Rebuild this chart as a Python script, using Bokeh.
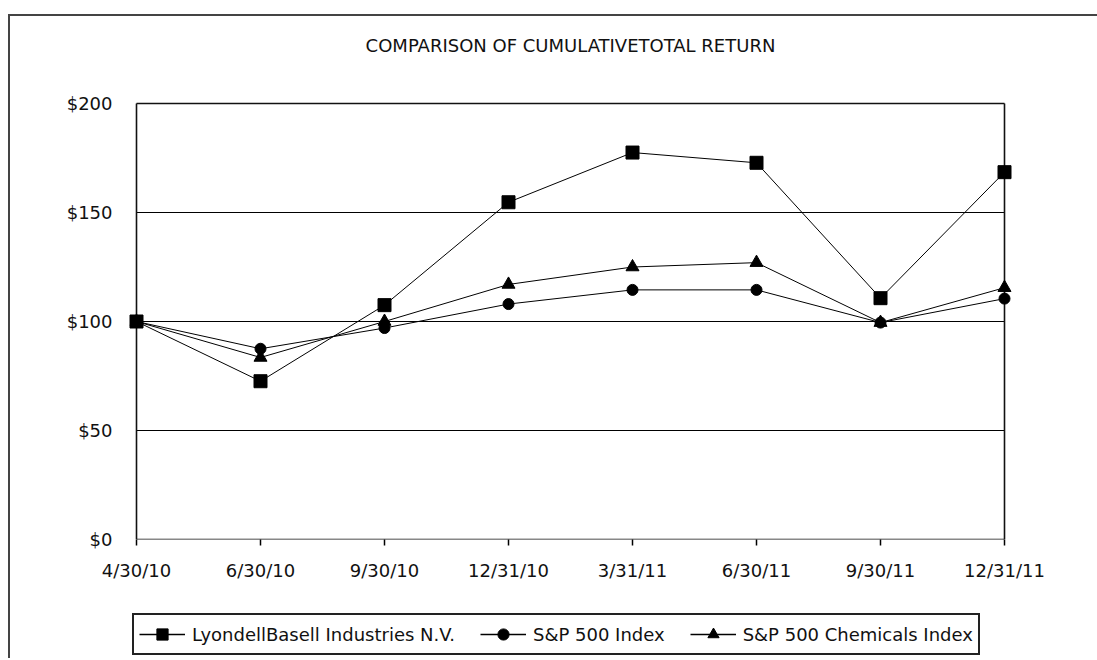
from bokeh.plotting import figure
from bokeh.models import Range1d, FixedTicker, Legend, LegendItem, Label
from bokeh.layouts import column
from bokeh.embed import file_html
from bokeh.resources import INLINE

# ---- data ----
dates = ["4/30/10", "6/30/10", "9/30/10", "12/31/10", "3/31/11", "6/30/11", "9/30/11", "12/31/11"]
lyb = [100, 72.6, 107.5, 154.7, 177.5, 172.8, 110.7, 168.5]
sp500 = [100, 87.5, 97, 108, 114.5, 114.5, 99.5, 110.5]
chem = [100, 83.5, 100, 117, 125, 127, 99.5, 115.5]
y_ticks = [0, 50, 100, 150, 200]
y_labels = ["$0", "$50", "$100", "$150", "$200"]
title_text = "COMPARISON OF CUMULATIVETOTAL RETURN"
names = ["LyondellBasell Industries N.V.", "S&P 500 Index", "S&P 500 Chemicals Index"]

FONT = "DejaVu Sans"
x = list(range(len(dates)))
pad = 8 / 124.0
top_px, plot_px = 87, 436          # space above the plot box, plot box height (px)
y_top = y_ticks[-1] * (1 + top_px / plot_px)

p = figure(width=1087, height=590, output_backend="svg", toolbar_location=None,
           x_range=Range1d(x[0] - pad, x[-1] + pad), y_range=Range1d(y_ticks[0], y_top),
           min_border_left=118, min_border_right=85, min_border_top=0, min_border_bottom=67)
p.outline_line_color = None
p.background_fill_color = "white"
p.border_fill_color = "white"
p.grid.visible = False

# grid lines (between the axes)
n = len(y_ticks)
p.segment(x0=[x[0]] * (n - 2), x1=[x[-1]] * (n - 2), y0=y_ticks[1:-1], y1=y_ticks[1:-1],
          line_color="black", line_width=1)
# plot box
p.segment(x0=[x[0], x[0], x[0], x[-1]], x1=[x[-1], x[-1], x[0], x[-1]],
          y0=[y_ticks[0], y_ticks[-1], y_ticks[0], y_ticks[0]],
          y1=[y_ticks[0], y_ticks[-1], y_ticks[-1], y_ticks[-1]],
          line_color="#111111", line_width=1.6)

# series
series = [(lyb, "square", 13), (sp500, "circle", 11), (chem, "triangle", 13)]
for vals, mk, sz in series:
    p.line(x, vals, line_color="black", line_width=1)
    p.scatter(x, vals, marker=mk, size=sz, fill_color="black", line_color="black")

# title
p.add_layout(Label(x=(x[0] + x[-1]) / 2, y=y_ticks[-1], y_offset=58, text=title_text,
                   text_align="center", text_baseline="middle",
                   text_font=FONT, text_font_size="18px", text_color="#111111"))

# axes
p.xaxis.ticker = FixedTicker(ticks=x)
p.xaxis.major_label_overrides = {i: d for i, d in zip(x, dates)}
p.xaxis.axis_line_color = None
p.xaxis.major_tick_out = 6
p.xaxis.major_tick_in = 0
p.xaxis.major_tick_line_color = "black"
p.xaxis.major_tick_line_width = 1.5
p.xaxis.minor_tick_line_color = None
p.xaxis.major_label_standoff = 14

p.yaxis.ticker = FixedTicker(ticks=y_ticks)
p.yaxis.major_label_overrides = {t: s for t, s in zip(y_ticks, y_labels)}
p.yaxis.axis_line_color = None
p.yaxis.major_tick_line_color = None
p.yaxis.minor_tick_line_color = None
p.yaxis.major_label_standoff = 10

for ax in (p.xaxis, p.yaxis):
    ax.major_label_text_font = FONT
    ax.major_label_text_font_size = "18px"
    ax.major_label_text_color = "#111111"

# ---- legend strip (its frame is aligned with the chart's frame by the column) ----
q = figure(width=1087, height=52, output_backend="svg", toolbar_location=None,
           x_axis_type=None, y_axis_type=None, x_range=Range1d(0, 1), y_range=Range1d(-2, -1),
           min_border=0, min_border_left=0, min_border_right=0, min_border_top=0, min_border_bottom=0)
q.outline_line_color = None
q.background_fill_color = "white"
q.border_fill_color = "white"
q.grid.visible = False
items = []
for (vals, mk, sz), nm in zip(series, names):
    # same series, outside this strip's visible range: only their legend glyphs show
    l = q.line(x, vals, line_color="black", line_width=1.3)
    s = q.scatter(x, vals, marker=mk, size=sz, fill_color="black", line_color="black")
    items.append(LegendItem(label=nm, renderers=[l, s]))

legend = Legend(items=items, orientation="horizontal", location=(4, 3),
                label_text_font=FONT, label_text_font_size="18px", label_text_color="#111111",
                glyph_width=46, glyph_height=28, label_height=20, label_standoff=7,
                spacing=25, padding=5, margin=0,
                border_line_color="#222222", border_line_width=2, border_line_alpha=1,
                background_fill_color="white", background_fill_alpha=1)
q.add_layout(legend)

page = column(p, q, spacing=0,
              styles={"border-top": "2px solid #444444", "border-left": "2px solid #444444",
                      "margin-top": "14px", "margin-left": "8px"})

open("out.html", "w").write(file_html(page, INLINE))
